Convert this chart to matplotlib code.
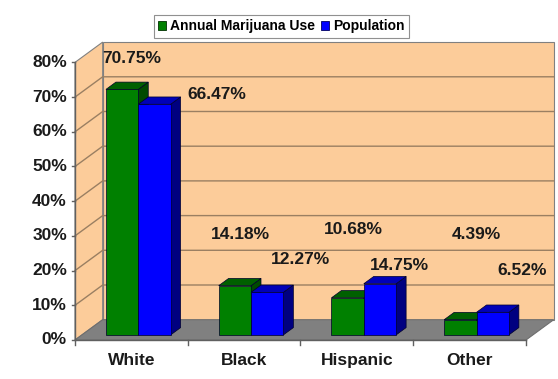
"""
Gráfico de barras 3D (estilo Excel): uso anual de maconha x população.
"""

import matplotlib
matplotlib.use("Agg")
import matplotlib.pyplot as plt
from matplotlib.patches import Polygon, Patch

# Dados
categories = ["White", "Black", "Hispanic", "Other"]
marijuana_use = [70.75, 14.18, 10.68, 4.39]
population = [66.47, 12.27, 14.75, 6.52]
series_names = ["Annual Marijuana Use", "Population"]
y_ticks = [0, 10, 20, 30, 40, 50, 60, 70, 80]

# Posições dos rótulos de dados (como o Excel os deixou)
use_label_pos = [(0.50, 81.0), (1.47, 30.5), (2.47, 31.7), (3.56, 30.5)]
pop_label_pos = [(1.26, 70.8), (2.00, 23.1), (2.88, 21.4), (3.97, 20.0)]

# Aparência
WALL = "#FCCC9A"
GRID = "#9A7F62"
EDGE = "#808080"
FLOOR = "#808080"
FACES = [
    ("#008000", "#006000", "#004A00"),  # verde: frente, topo, lado
    ("#0000FF", "#0000B8", "#000080"),  # azul
]
DX, DY = 0.2457, 5.85   # deslocamento da profundidade
F0, F1 = 0.25, 0.61     # frente e fundo das barras na profundidade
W = 0.287               # largura de cada barra
YMAX = 80
FONT = "Liberation Sans"

fig = plt.figure(figsize=(5.58, 3.79), dpi=100)
ax = fig.add_axes([0, 0, 1, 1])
ax.set_xlim(-0.665, 4.284)
ax.set_ylim(-11.24, 97.98)
ax.axis("off")

n = len(categories)

# Paredes
back = [(DX, DY), (n + DX, DY), (n + DX, YMAX + DY), (DX, YMAX + DY)]
left = [(0, 0), (DX, DY), (DX, YMAX + DY), (0, YMAX)]
ax.add_patch(Polygon(back, closed=True, fc=WALL, ec=EDGE, lw=0.8, zorder=0))
ax.add_patch(Polygon(left, closed=True, fc=WALL, ec=EDGE, lw=0.8, zorder=0))

# Linhas de grade
for t in y_ticks[1:-1]:
    ax.plot([0, DX, n + DX], [t, t + DY, t + DY], color=GRID, lw=1, zorder=1)

# Piso
floor = [(0, 0), (n, 0), (n + DX, DY), (DX, DY)]
ax.add_patch(Polygon(floor, closed=True, fc=FLOOR, ec="#6E6E6E", lw=0.8, zorder=2))

# Eixo Y e marcas
ax.plot([0, 0], [0, YMAX], color="#606060", lw=1, zorder=2)
for t in y_ticks:
    ax.plot([-0.03, 0], [t, t], color="#606060", lw=1, zorder=2)
    ax.text(-0.071, t, f"{t}%", ha="right", va="center", fontsize=12.5,
            fontweight="bold", family=FONT, color="#1A1A1A")

# Eixo X e marcas
ax.plot([0, n], [0, 0], color="#606060", lw=1, zorder=2)
for i in range(n + 1):
    ax.plot([i, i], [0, -1.5], color="#606060", lw=1, zorder=2)
for i, name in enumerate(categories):
    ax.text(i + 0.5, -6.0, name, ha="center", va="center", fontsize=12.5,
            fontweight="bold", family=FONT, color="#1A1A1A")


def draw_bar(x0, value, colors, z):
    front_c, top_c, side_c = colors
    ax0, ay0 = F0 * DX, F0 * DY
    bx, by = F1 * DX, F1 * DY
    front = [(x0 + ax0, ay0), (x0 + W + ax0, ay0),
             (x0 + W + ax0, value + ay0), (x0 + ax0, value + ay0)]
    top = [(x0 + ax0, value + ay0), (x0 + W + ax0, value + ay0),
           (x0 + W + bx, value + by), (x0 + bx, value + by)]
    side = [(x0 + W + ax0, ay0), (x0 + W + bx, by),
            (x0 + W + bx, value + by), (x0 + W + ax0, value + ay0)]
    for poly, c in ((side, side_c), (top, top_c), (front, front_c)):
        ax.add_patch(Polygon(poly, closed=True, fc=c, ec="#00002A", lw=0.5, zorder=z))


# Barras
z = 3
for i in range(n):
    for s, values in enumerate([marijuana_use, population]):
        x0 = i + 0.5 - W + s * W
        draw_bar(x0, values[i], FACES[s], z)
        z += 1

# Rótulos de dados
for (x, y), v in zip(use_label_pos, marijuana_use):
    ax.text(x, y, f"{v:.2f}%", ha="center", va="center", fontsize=12.5,
            fontweight="bold", family=FONT, color="#1A1A1A", zorder=20)
for (x, y), v in zip(pop_label_pos, population):
    ax.text(x, y, f"{v:.2f}%", ha="center", va="center", fontsize=12.5,
            fontweight="bold", family=FONT, color="#1A1A1A", zorder=20)

# Legenda
handles = [Patch(fc=FACES[0][0], ec="#003000", lw=0.6),
           Patch(fc=FACES[1][0], ec="#000060", lw=0.6)]
leg = fig.legend(handles, series_names, loc="upper center",
                 bbox_to_anchor=(0.504, 0.978), ncol=2, frameon=True,
                 fancybox=False, edgecolor="#909090", framealpha=1,
                 handlelength=0.6, handleheight=0.6, handletextpad=0.3,
                 columnspacing=0.4, borderpad=0.3,
                 prop={"family": FONT, "weight": "bold", "size": 10})
leg.get_frame().set_linewidth(0.8)

fig.savefig("out.png", dpi=100)
plt.close(fig)
